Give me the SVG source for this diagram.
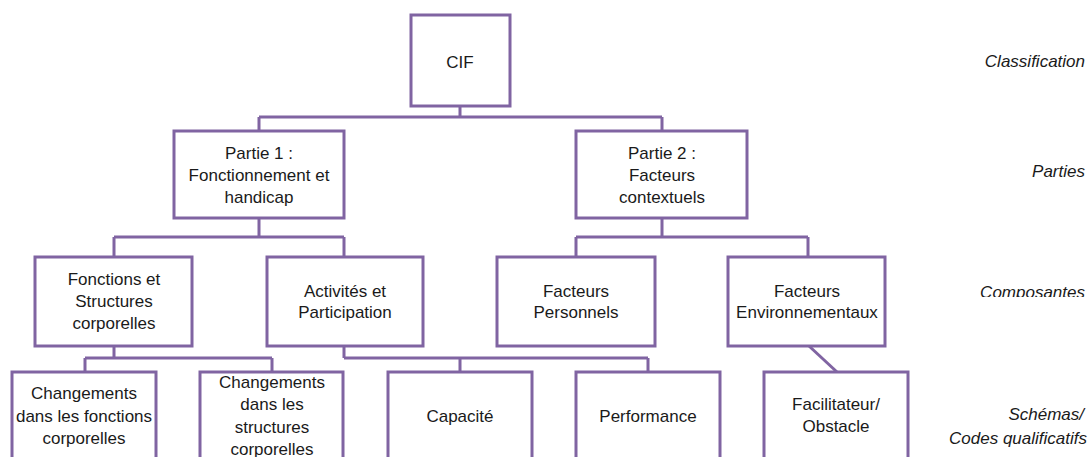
<svg xmlns="http://www.w3.org/2000/svg" width="1088" height="457" viewBox="0 0 1088 457">
<style>
.box{fill:#fff;stroke:#8064A2;stroke-width:3}
.ln{fill:none;stroke:#8064A2;stroke-width:3}
text{font-family:"Liberation Sans",Arial,sans-serif;font-size:17px;fill:#1a1a1a;text-anchor:middle}
.lab{font-style:italic;text-anchor:end}
</style>
<defs><clipPath id="cp"><rect x="0" y="0" width="1088" height="297"/></clipPath></defs>
<rect width="1088" height="457" fill="#fff"/>
<g id="connectors">
<path class="ln" d="M460 106V117M259 117H662M259 117V131M662 117V131"/>
<path class="ln" d="M259 218V237M114 237H344M114 237V257M344 237V257"/>
<path class="ln" d="M662 218V237M576 237H808M576 237V257M808 237V257"/>
<path class="ln" d="M114 346V358M85 358H272M85 358V372M272 358V372"/>
<path class="ln" d="M344 346V358M344 358H648M460 358V372M648 358V372"/>
<path class="ln" d="M809 346L837 372"/>
</g>
<g id="n-cif"><rect class="box" x="411" y="15" width="99" height="91"/><text x="460" y="68">CIF</text></g>
<g id="n-partie1"><rect class="box" x="174" y="131" width="170" height="87"/><text x="259" y="159">Partie 1 :</text><text x="259" y="181">Fonctionnement et</text><text x="259" y="203">handicap</text></g>
<g id="n-partie2"><rect class="box" x="576" y="131" width="171" height="87"/><text x="662" y="159">Partie 2 :</text><text x="662" y="181">Facteurs</text><text x="662" y="203">contextuels</text></g>
<g id="n-fonctions"><rect class="box" x="35" y="257" width="157" height="89"/><text x="114" y="285">Fonctions et</text><text x="114" y="307">Structures</text><text x="114" y="329">corporelles</text></g>
<g id="n-activites"><rect class="box" x="267" y="257" width="156" height="89"/><text x="345" y="297">Activités et</text><text x="345" y="318">Participation</text></g>
<g id="n-personnels"><rect class="box" x="497" y="257" width="158" height="89"/><text x="576" y="297">Facteurs</text><text x="576" y="318">Personnels</text></g>
<g id="n-environnementaux"><rect class="box" x="728" y="257" width="157" height="89"/><text x="807" y="297">Facteurs</text><text x="807" y="318">Environnementaux</text></g>
<g id="n-chg-fonctions"><rect class="box" x="12" y="372" width="144" height="100"/><text x="84" y="399">Changements</text><text x="84" y="422">dans les fonctions</text><text x="84" y="444">corporelles</text></g>
<g id="n-chg-structures"><rect class="box" x="200" y="372" width="143" height="100"/><text x="272" y="388">Changements</text><text x="272" y="410">dans les</text><text x="272" y="433">structures</text><text x="272" y="455">corporelles</text></g>
<g id="n-capacite"><rect class="box" x="388" y="372" width="144" height="100"/><text x="460" y="422">Capacité</text></g>
<g id="n-performance"><rect class="box" x="576" y="372" width="144" height="100"/><text x="648" y="422">Performance</text></g>
<g id="n-facilitateur"><rect class="box" x="764" y="372" width="144" height="100"/><text x="836" y="410">Facilitateur/</text><text x="836" y="432">Obstacle</text></g>
<g id="labels">
<text class="lab" x="1085" y="67">Classification</text>
<text class="lab" x="1085" y="177">Parties</text>
<text class="lab" x="1085" y="298" clip-path="url(#cp)">Composantes</text>
<text class="lab" x="1084" y="420">Schémas/</text>
<text class="lab" x="1087" y="444">Codes qualificatifs</text>
</g>
</svg>
